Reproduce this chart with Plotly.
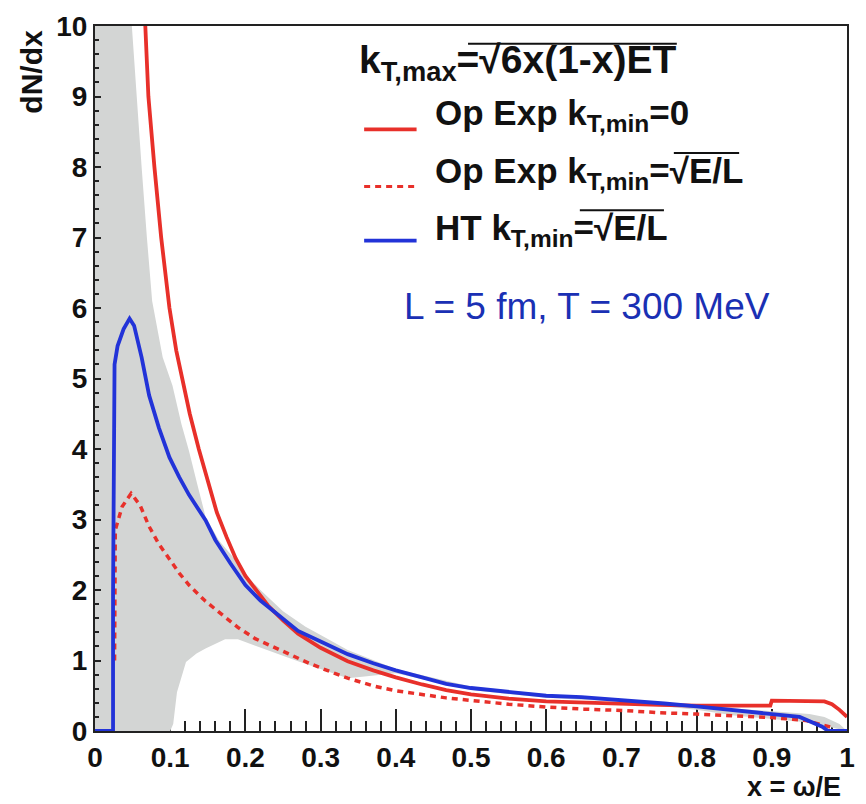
import plotly.graph_objects as go

# ---------------- data ----------------
band_x = [0.0, 0.045, 0.049, 0.055, 0.062, 0.069, 0.076, 0.09, 0.103, 0.115, 0.125, 0.136, 0.147,
          0.165, 0.185, 0.2, 0.22, 0.25, 0.28, 0.3, 0.336, 0.4, 0.5, 0.6, 0.7, 0.8, 0.85, 0.9,
          0.95, 0.97, 0.99, 1.0]
band_upper = [11.0, 11.0, 10.0, 9.0, 8.0, 7.0, 6.1, 5.3, 4.9, 4.35, 3.97, 3.5, 3.04,
              2.7, 2.45, 2.22, 2.0, 1.7, 1.48, 1.36, 1.15, 0.88, 0.63, 0.52, 0.45, 0.37, 0.32, 0.28,
              0.24, 0.2, 0.1, 0.0]
band_lower_x = [0.0, 0.1, 0.104, 0.109, 0.121, 0.135, 0.147, 0.173, 0.19, 0.208, 0.24, 0.27, 0.3,
                0.336, 0.4, 0.5, 0.6, 0.7, 0.8, 0.85, 0.9, 0.95, 0.98, 1.0]
band_lower = [0.0, 0.0, 0.1, 0.55, 0.98, 1.1, 1.17, 1.3, 1.3, 1.23, 1.1, 0.99, 0.88,
              0.75, 0.82, 0.58, 0.47, 0.41, 0.3, 0.22, 0.17, 0.12, 0.05, 0.0]

red_x = [0.062, 0.067, 0.071, 0.079, 0.088, 0.099, 0.108, 0.116, 0.126, 0.138, 0.15, 0.162,
         0.175, 0.187, 0.2, 0.215, 0.23, 0.25, 0.27, 0.3, 0.336, 0.37, 0.4, 0.435, 0.467, 0.5,
         0.55, 0.6, 0.65, 0.7, 0.75, 0.8, 0.85, 0.898, 0.9, 0.95, 0.97, 0.98, 0.99, 1.0]
red_y = [11.2, 10.0, 9.0, 8.0, 7.0, 6.0, 5.4, 5.0, 4.5, 4.0, 3.55, 3.1,
         2.75, 2.45, 2.2, 1.98, 1.78, 1.57, 1.38, 1.18, 0.99, 0.86, 0.76, 0.66, 0.58, 0.52,
         0.46, 0.42, 0.40, 0.38, 0.37, 0.36, 0.36, 0.36, 0.43, 0.43, 0.42, 0.38, 0.30, 0.2]

dash_x = [0.026, 0.027, 0.036, 0.048, 0.06, 0.072, 0.085, 0.099, 0.112, 0.125, 0.147, 0.169,
          0.19, 0.213, 0.235, 0.257, 0.285, 0.318, 0.336, 0.37, 0.4, 0.467, 0.5, 0.55, 0.6,
          0.65, 0.704, 0.75, 0.8, 0.836, 0.9, 0.945, 0.967, 0.98]
dash_y = [1.0, 2.85, 3.18, 3.37, 3.2, 2.9, 2.65, 2.43, 2.24, 2.07, 1.84, 1.65,
          1.47, 1.31, 1.2, 1.09, 0.96, 0.82, 0.75, 0.64, 0.57, 0.47, 0.43, 0.38, 0.34,
          0.31, 0.29, 0.26, 0.24, 0.22, 0.19, 0.15, 0.08, 0.05]

blue_x = [0.0, 0.024, 0.024, 0.025, 0.026, 0.03, 0.038, 0.046, 0.052, 0.062, 0.072, 0.085,
          0.099, 0.112, 0.125, 0.147, 0.16, 0.18, 0.2, 0.22, 0.239, 0.27, 0.3, 0.336, 0.37,
          0.4, 0.435, 0.467, 0.5, 0.55, 0.6, 0.647, 0.7, 0.757, 0.8, 0.85, 0.879, 0.937,
          0.967, 0.975, 1.0]
blue_y = [0.0, 0.0, 1.93, 3.78, 5.2, 5.46, 5.7, 5.85, 5.75, 5.3, 4.76, 4.3,
          3.88, 3.6, 3.35, 2.99, 2.71, 2.38, 2.07, 1.85, 1.69, 1.42, 1.27, 1.09, 0.96,
          0.86, 0.76, 0.67, 0.61, 0.55, 0.50, 0.48, 0.44, 0.39, 0.35, 0.30, 0.27, 0.2,
          0.06, 0.0, 0.0]

x_ticks = [0, 0.1, 0.2, 0.3, 0.4, 0.5, 0.6, 0.7, 0.8, 0.9, 1.0]
x_tick_labels = ["0", "0.1", "0.2", "0.3", "0.4", "0.5", "0.6", "0.7", "0.8", "0.9", "1"]
y_ticks = [0, 1, 2, 3, 4, 5, 6, 7, 8, 9, 10]
y_tick_labels = [str(v) for v in y_ticks]

RED = "#e8302a"
BLUE = "#2233d8"
GRAY = "#d3d5d4"
FONT = "Liberation Sans"

fig = go.Figure()
fig.add_trace(go.Scatter(x=band_lower_x, y=band_lower, mode="lines", line=dict(width=0),
                         showlegend=False, hoverinfo="skip"))
fig.add_trace(go.Scatter(x=band_x, y=band_upper, mode="lines", line=dict(width=0),
                         fill="tonexty", fillcolor=GRAY, showlegend=False, hoverinfo="skip"))
fig.add_trace(go.Scatter(x=dash_x, y=dash_y, mode="lines",
                         line=dict(color=RED, width=3.5, dash="6px,5px"), showlegend=False))
fig.add_trace(go.Scatter(x=red_x, y=red_y, mode="lines",
                         line=dict(color=RED, width=3.8), showlegend=False))
fig.add_trace(go.Scatter(x=blue_x, y=blue_y, mode="lines",
                         line=dict(color=BLUE, width=3.8), showlegend=False))

fig.update_layout(
    width=866, height=804,
    margin=dict(l=95, r=11, t=15, b=73),
    paper_bgcolor="white", plot_bgcolor="white",
    showlegend=False,
)
fig.update_xaxes(
    range=[0, 1], tickvals=x_ticks, ticktext=x_tick_labels,
    ticks="inside", ticklen=22, tickwidth=2, tickcolor="#222",
    minor=dict(dtick=0.02, ticks="inside", ticklen=10, tickwidth=2, tickcolor="#222"),
    showgrid=False, zeroline=False,
    showline=True, linecolor="#222", linewidth=2, mirror=True,
    layer="below traces", ticklabeloverflow="allow",
    tickfont=dict(family=FONT, size=28, color="#111", weight="bold"),
)
fig.update_yaxes(
    range=[0, 10], tickvals=y_ticks, ticktext=y_tick_labels,
    ticks="inside", ticklen=6, tickwidth=2, tickcolor="#222",
    minor=dict(dtick=0.2, ticks="inside", ticklen=4, tickwidth=1.5, tickcolor="#222"),
    showgrid=False, zeroline=False,
    showline=True, linecolor="#222", linewidth=2, mirror=True,
    ticklabeloverflow="allow",
    tickfont=dict(family=FONT, size=28, color="#111", weight="bold"),
)

def px2paper(px, py):
    return (px - 95) / 760.0, (731 - py) / 716.0

anns = []
def add_text(text, px, py, size, color="#111", xanchor="left", yanchor="middle", bold=True, angle=0):
    xp, yp = px2paper(px, py)
    anns.append(dict(text=text, x=xp, y=yp, xref="paper", yref="paper", showarrow=False,
                     xanchor=xanchor, yanchor=yanchor, textangle=angle,
                     font=dict(family=FONT, size=size, color=color,
                               weight="bold" if bold else "normal")))

add_text("k<sub>T,max</sub>=√6x(1-x)ET", 360, 52, 39)
add_text("Op Exp k<sub>T,min</sub>=0", 437, 105, 35)
add_text("Op Exp k<sub>T,min</sub>=√E/L", 437, 164, 35)
add_text("HT k<sub>T,min</sub>=√E/L", 437, 222, 35)
add_text("L = 5 fm, T = 300 MeV", 405, 300, 37, color="#1a30b4", bold=False)
add_text("dN/dx", 31, 17, 30, angle=-90, xanchor="center", yanchor="top")
add_text("x = ω/E", 851, 788, 27, xanchor="right")
fig.update_layout(annotations=anns)

shapes = []
def add_line(px0, py0, px1, py1, color, width, dash="solid"):
    x0, y0 = px2paper(px0, py0)
    x1, y1 = px2paper(px1, py1)
    shapes.append(dict(type="line", xref="paper", yref="paper", x0=x0, y0=y0, x1=x1, y1=y1,
                       line=dict(color=color, width=width, dash=dash)))

add_line(367, 120, 420, 120, RED, 3.8)
add_line(367, 178, 420, 178, RED, 3, "6px,5px")
add_line(367, 233, 420, 233, BLUE, 3.8)
# radical overlines
add_line(472, 33, 683, 33, "#111", 2)
add_line(680, 144, 746, 144, "#111", 2)
add_line(585, 202, 670, 202, "#111", 2)
fig.update_layout(shapes=shapes)

fig.write_html("out.html")
